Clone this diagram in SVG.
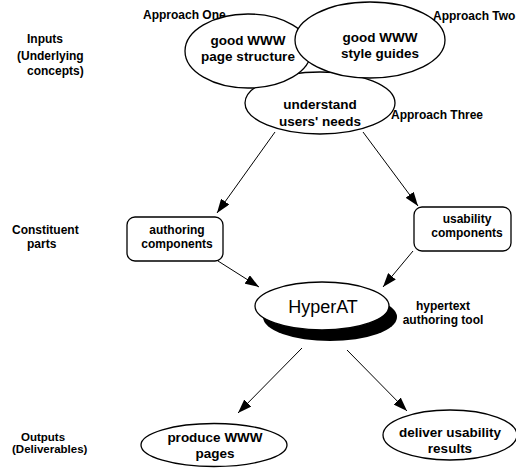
<svg xmlns="http://www.w3.org/2000/svg" width="516" height="468" viewBox="0 0 516 468">
<style>
text{font-family:"Liberation Sans",Arial,sans-serif;font-weight:bold;fill:#000}
.lbl{font-size:12px}
.nd{font-size:13.5px;text-anchor:middle}
.bx{font-size:12px;text-anchor:middle}
.shape{fill:#fff;stroke:#000;stroke-width:1.3}
.conn{stroke:#000;stroke-width:1;fill:none;marker-end:url(#ah)}
</style>
<defs>
<marker id="ah" viewBox="0 0 14 10" refX="14" refY="5" markerWidth="14" markerHeight="10" markerUnits="userSpaceOnUse" orient="auto">
<path d="M0,0 L14,5 L0,10 z" fill="#000"/>
</marker>
</defs>
<rect width="516" height="468" fill="#fff"/>
<g id="labels">
<text class="lbl" x="27" y="43">Inputs</text>
<text class="lbl" x="17" y="60">(Underlying</text>
<text class="lbl" x="27" y="75">concepts)</text>
<text class="lbl" x="12" y="234">Constituent</text>
<text class="lbl" x="27" y="248">parts</text>
<text class="lbl" x="21" y="441" style="font-size:11.5px">Outputs</text>
<text class="lbl" x="12" y="453" style="font-size:11.5px">(Deliverables)</text>
<text class="lbl" x="143" y="19">Approach One</text>
<text class="lbl" x="433" y="20">Approach Two</text>
<text class="lbl" x="391" y="119">Approach Three</text>
<text class="lbl" x="443" y="310" text-anchor="middle">hypertext</text>
<text class="lbl" x="443" y="324" text-anchor="middle">authoring tool</text>
</g>
<g id="users-needs">
<ellipse class="shape" cx="320" cy="103" rx="75" ry="31"/>
<text class="nd" x="320" y="109">understand</text>
<text class="nd" x="320" y="126">users' needs</text>
</g>
<g id="page-structure">
<ellipse class="shape" cx="248" cy="51" rx="63" ry="37"/>
<text class="nd" x="248" y="45">good WWW</text>
<text class="nd" x="248" y="61">page structure</text>
</g>
<g id="style-guides">
<ellipse class="shape" cx="370" cy="40" rx="75" ry="38"/>
<text class="nd" x="380" y="42">good WWW</text>
<text class="nd" x="380" y="58">style guides</text>
</g>
<g id="authoring-components">
<rect class="shape" x="127" y="217" width="96" height="44" rx="8"/>
<text class="bx" x="177" y="234">authoring</text>
<text class="bx" x="177" y="248">components</text>
</g>
<g id="usability-components">
<rect class="shape" x="414" y="207" width="97" height="44" rx="8"/>
<text class="bx" x="467" y="223">usability</text>
<text class="bx" x="467" y="237">components</text>
</g>
<g id="hyperat">
<ellipse cx="330" cy="317" rx="67" ry="24" fill="#000"/>
<ellipse class="shape" cx="322" cy="306" rx="67" ry="24"/>
<text x="323" y="313" text-anchor="middle" style="font-weight:normal;font-size:18px">HyperAT</text>
</g>
<g id="produce-pages">
<ellipse class="shape" cx="214" cy="445" rx="73" ry="21.5"/>
<text class="nd" x="215" y="442">produce WWW</text>
<text class="nd" x="215" y="458">pages</text>
</g>
<g id="deliver-results">
<ellipse class="shape" cx="450" cy="435" rx="67" ry="25"/>
<text class="nd" x="450" y="437">deliver usability</text>
<text class="nd" x="450" y="453">results</text>
</g>
<g id="connectors">
<line class="conn" x1="275" y1="132" x2="217" y2="213"/>
<line class="conn" x1="363" y1="132" x2="418" y2="206"/>
<line class="conn" x1="218" y1="261" x2="259" y2="287"/>
<line class="conn" x1="413" y1="251" x2="383" y2="287"/>
<line class="conn" x1="302" y1="348" x2="238" y2="413"/>
<line class="conn" x1="347" y1="350" x2="407" y2="411"/>
</g>
</svg>
